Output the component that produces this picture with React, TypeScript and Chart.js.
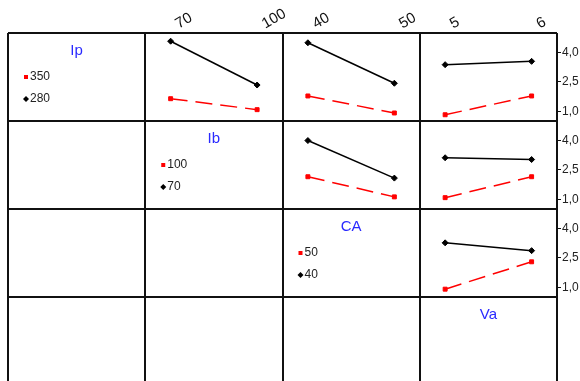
import React, { useEffect, useRef } from "react";
import { Chart, registerables } from "chart.js";

Chart.register(...registerables);

// ---- Data ----
const factorNames = ["Ip", "Ib", "CA", "Va"];
const ipLevels = [280, 350];
const ibLevels = [70, 100];
const caLevels = [40, 50];
const vaLevels = [5, 6];
const yTickValues = [1.0, 2.5, 4.0];
const yMin = 0.5;
const yMax = 5.0;

// Means of response: trace factor (row) level x column factor levels
const ip280ByIb = [4.58, 2.34];
const ip350ByIb = [1.64, 1.08];
const ip280ByCa = [4.5, 2.43];
const ip350ByCa = [1.78, 0.91];
const ip280ByVa = [3.38, 3.55];
const ip350ByVa = [0.82, 1.78];
const ib70ByCa = [4.0, 2.08];
const ib100ByCa = [2.15, 1.12];
const ib70ByVa = [3.12, 3.03];
const ib100ByVa = [1.08, 2.15];
const ca40ByVa = [3.27, 2.87];
const ca50ByVa = [0.9, 2.3];

const levelsByFactor = [ipLevels, ibLevels, caLevels, vaLevels];

const panels = [
  { row: 0, col: 1, low: ip280ByIb, high: ip350ByIb },
  { row: 0, col: 2, low: ip280ByCa, high: ip350ByCa },
  { row: 0, col: 3, low: ip280ByVa, high: ip350ByVa },
  { row: 1, col: 2, low: ib70ByCa, high: ib100ByCa },
  { row: 1, col: 3, low: ib70ByVa, high: ib100ByVa },
  { row: 2, col: 3, low: ca40ByVa, high: ca50ByVa },
];

const N = factorNames.length;
const PAD = 0.185;
const FONT = '"Liberation Sans", Arial, Helvetica, sans-serif';
const BLUE = "#2a2aff";
const RED = "#ff0000";

function xPos(col: number, level: number) {
  const lv = levelsByFactor[col];
  const t = (level - lv[0]) / (lv[1] - lv[0]);
  return col + PAD + (1 - 2 * PAD) * t;
}
function yPos(row: number, v: number) {
  return N - 1 - row + (v - yMin) / (yMax - yMin);
}

const xTicks: { value: number; label: string }[] = [];
for (let c = 1; c < N; c++) {
  for (const l of levelsByFactor[c]) xTicks.push({ value: xPos(c, l), label: String(l) });
}
const yTicks: { value: number; label: string }[] = [];
for (let r = 0; r < N - 1; r++) {
  for (const v of yTickValues) yTicks.push({ value: yPos(r, v), label: v.toFixed(1).replace(".", ",") });
}

const gridPlugin = {
  id: "matrixLabels",
  afterDraw(chart: any) {
    const ctx = chart.ctx as CanvasRenderingContext2D;
    const gx = chart.scales.gx;
    const gy = chart.scales.gy;
    ctx.save();
    for (let r = 0; r < N; r++) {
      const left = gx.getPixelForValue(r);
      const right = gx.getPixelForValue(r + 1);
      const top = gy.getPixelForValue(N - r);
      ctx.fillStyle = BLUE;
      ctx.font = `15px ${FONT}`;
      ctx.textAlign = "center";
      ctx.textBaseline = "middle";
      ctx.fillText(factorNames[r], (left + right) / 2, top + 18);
      if (r < N - 1) {
        const lv = levelsByFactor[r];
        const mx = left + 18;
        // high level (red square)
        ctx.fillStyle = RED;
        ctx.fillRect(mx - 2, top + 44 - 2, 4, 4);
        // low level (black diamond)
        ctx.fillStyle = "#000";
        ctx.beginPath();
        ctx.moveTo(mx, top + 66 - 3);
        ctx.lineTo(mx + 3, top + 66);
        ctx.lineTo(mx, top + 66 + 3);
        ctx.lineTo(mx - 3, top + 66);
        ctx.closePath();
        ctx.fill();
        ctx.fillStyle = "#222";
        ctx.font = `12px ${FONT}`;
        ctx.textAlign = "left";
        ctx.fillText(String(lv[1]), mx + 4, top + 44);
        ctx.fillText(String(lv[0]), mx + 4, top + 66);
      }
    }
    ctx.restore();
  },
};

export default function App() {
  const ref = useRef<HTMLCanvasElement>(null);
  useEffect(() => {
    const datasets: any[] = [];
    for (const p of panels) {
      const lv = levelsByFactor[p.col];
      datasets.push({
        data: p.high.map((v, i) => ({ x: xPos(p.col, lv[i]), y: yPos(p.row, v) })),
        borderColor: RED,
        backgroundColor: RED,
        borderWidth: 1.5,
        borderDash: [17, 8],
        pointStyle: "rect",
        pointRadius: 2.8,
        pointBorderWidth: 1,
        pointBorderColor: RED,
        pointBackgroundColor: RED,
        xAxisID: "x",
        yAxisID: "y",
      });
      datasets.push({
        data: p.low.map((v, i) => ({ x: xPos(p.col, lv[i]), y: yPos(p.row, v) })),
        borderColor: "#000",
        backgroundColor: "#000",
        borderWidth: 1.5,
        pointStyle: "rectRot",
        pointRadius: 3,
        pointBorderWidth: 1,
        pointBorderColor: "#000",
        pointBackgroundColor: "#000",
        xAxisID: "x",
        yAxisID: "y",
      });
    }
    const chart = new Chart(ref.current!, {
      type: "line",
      data: { datasets },
      plugins: [gridPlugin],
      options: {
        responsive: false,
        animation: false,
        events: [],
        layout: { padding: { left: 8, right: 0, top: 0, bottom: 15 } },
        plugins: { legend: { display: false }, tooltip: { enabled: false } },
        scales: {
          x: {
            type: "linear",
            position: "top",
            min: 0,
            max: N,
            afterBuildTicks: (s: any) => {
              s.ticks = xTicks.map((t) => ({ value: t.value }));
            },
            afterFit: (s: any) => {
              s.height = 33;
            },
            ticks: {
              autoSkip: false,
              minRotation: 30,
              maxRotation: 30,
              padding: 0,
              labelOffset: 15,
              color: "#111",
              font: { family: FONT, size: 15 },
              callback: (_v: any, i: number) => xTicks[i]?.label ?? "",
            },
            grid: { display: false, drawTicks: false },
            border: { display: false },
          },
          y: {
            type: "linear",
            position: "right",
            min: 0,
            max: N,
            afterBuildTicks: (s: any) => {
              s.ticks = yTicks.map((t) => ({ value: t.value }));
            },
            afterFit: (s: any) => {
              s.width = 23;
            },
            ticks: {
              autoSkip: false,
              padding: 1,
              color: "#222",
              font: { family: FONT, size: 12 },
              callback: (_v: any, i: number) => yTicks[i]?.label ?? "",
            },
            grid: { drawOnChartArea: false, drawTicks: true, tickLength: 4, color: "#111", lineWidth: 1 },
            border: { display: false },
          },
          gx: {
            type: "linear",
            position: "bottom",
            min: 0,
            max: N,
            afterBuildTicks: (s: any) => {
              s.ticks = [0, 1, 2, 3, 4].map((v) => ({ value: v }));
            },
            afterFit: (s: any) => {
              s.height = 0;
            },
            ticks: { display: false },
            grid: { color: "#111", lineWidth: 2, drawTicks: false },
            border: { display: false },
          },
          gy: {
            type: "linear",
            position: "left",
            min: 0,
            max: N,
            afterBuildTicks: (s: any) => {
              s.ticks = [0, 1, 2, 3, 4].map((v) => ({ value: v }));
            },
            afterFit: (s: any) => {
              s.width = 0;
            },
            ticks: { display: false },
            grid: { color: "#111", lineWidth: 2, drawTicks: false },
            border: { display: false },
          },
        },
      } as any,
    });
    return () => chart.destroy();
  }, []);
  return (
    <div
      style={{
        position: "fixed",
        left: 0,
        top: 0,
        width: 580,
        height: 381,
        overflow: "hidden",
        background: "#fff",
      }}
    >
      <canvas ref={ref} width={580} height={400} style={{ display: "block", width: 580, height: 400 }} />
    </div>
  );
}
